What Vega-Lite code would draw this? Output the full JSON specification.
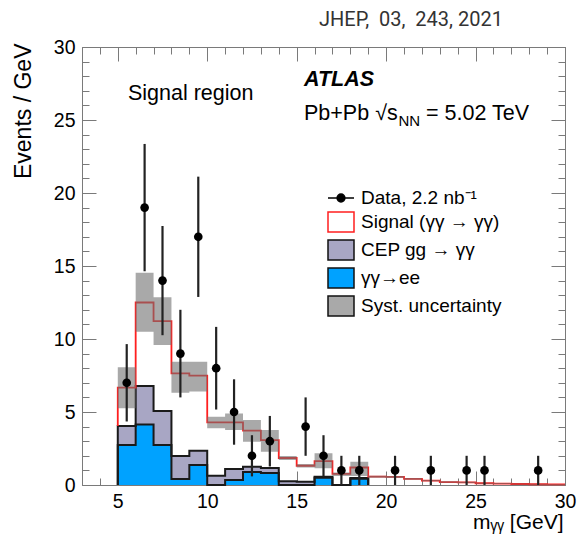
{
  "$schema": "https://vega.github.io/schema/vega-lite/v6.json",
  "width": 483,
  "height": 438,
  "autosize": {"type": "none"},
  "padding": {"left": 82, "top": 47, "right": 12, "bottom": 54},
  "background": "white",
  "config": {"view": {"stroke": null}, "axis": {"grid": false}, "font": "Liberation Sans"},
  "datasets": {
    "steps": [
      {"i": 0, "x": 5, "ee": 0, "cep": 0, "tot": 4.04, "slo": 5.25, "shi": 8.06},
      {"i": 1, "x": 5, "ee": 2.74, "cep": 4.04, "tot": 6.67, "slo": 5.25, "shi": 8.06},
      {"i": 2, "x": 6, "ee": 4.15, "cep": 6.78, "tot": 12.5, "slo": 10.5, "shi": 14.54},
      {"i": 3, "x": 7, "ee": 2.74, "cep": 5.07, "tot": 11.23, "slo": 9.59, "shi": 12.86},
      {"i": 4, "x": 8, "ee": 0.41, "cep": 1.99, "tot": 7.65, "slo": 6.32, "shi": 8.45},
      {"i": 5, "x": 9, "ee": 1.37, "cep": 2.35, "tot": 7.49, "slo": 6.4, "shi": 8.45},
      {"i": 6, "x": 10, "ee": 0, "cep": 0.64, "tot": 4.29, "slo": 3.88, "shi": 4.68},
      {"i": 7, "x": 11, "ee": 0.34, "cep": 1.1, "tot": 4.29, "slo": 3.77, "shi": 4.9},
      {"i": 8, "x": 12, "ee": 0.89, "cep": 1.25, "tot": 3.72, "slo": 2.97, "shi": 4.45},
      {"i": 9, "x": 13, "ee": 0.82, "cep": 1.16, "tot": 3.08, "slo": 2.28, "shi": 3.77},
      {"i": 10, "x": 14, "ee": 0, "cep": 0.25, "tot": 1.85, "slo": 1.71, "shi": 1.99},
      {"i": 11, "x": 15, "ee": 0, "cep": 0.22, "tot": 1.32, "slo": 1.2, "shi": 1.44},
      {"i": 12, "x": 16, "ee": 0.5, "cep": 0.56, "tot": 1.64, "slo": 1.14, "shi": 2.17},
      {"i": 13, "x": 17, "ee": 0, "cep": 0, "tot": 0.76, "slo": 0.62, "shi": 0.86},
      {"i": 14, "x": 18, "ee": 0.43, "cep": 0.48, "tot": 1.2, "slo": 0.62, "shi": 1.6},
      {"i": 15, "x": 19, "ee": 0, "cep": 0, "tot": 0.57, "slo": 0.5, "shi": 0.64},
      {"i": 16, "x": 20, "ee": 0, "cep": 0, "tot": 0.55, "slo": 0.48, "shi": 0.62},
      {"i": 17, "x": 21, "ee": 0, "cep": 0, "tot": 0.42, "slo": 0.36, "shi": 0.48},
      {"i": 18, "x": 22, "ee": 0, "cep": 0, "tot": 0.3, "slo": 0.25, "shi": 0.35},
      {"i": 19, "x": 23, "ee": 0, "cep": 0, "tot": 0.2, "slo": 0.15, "shi": 0.25},
      {"i": 20, "x": 24, "ee": 0, "cep": 0, "tot": 0.18, "slo": 0.13, "shi": 0.22},
      {"i": 21, "x": 25, "ee": 0, "cep": 0, "tot": 0.12, "slo": 0.08, "shi": 0.16},
      {"i": 22, "x": 26, "ee": 0, "cep": 0, "tot": 0.1, "slo": 0.06, "shi": 0.13},
      {"i": 23, "x": 27, "ee": 0, "cep": 0, "tot": 0.07, "slo": 0.03, "shi": 0.1},
      {"i": 24, "x": 28, "ee": 0, "cep": 0, "tot": 0.05, "slo": 0.02, "shi": 0.08},
      {"i": 25, "x": 29, "ee": 0, "cep": 0, "tot": 0.04, "slo": 0.01, "shi": 0.07},
      {"i": 26, "x": 30, "ee": 0, "cep": 0, "tot": 0.04, "slo": 0.01, "shi": 0.07}
    ],
    "pts": [
      {"m": 5.5, "n": 7, "lo": 4.35, "hi": 9.65},
      {"m": 6.5, "n": 19, "lo": 14.64, "hi": 23.36},
      {"m": 7.5, "n": 14, "lo": 10.26, "hi": 17.74},
      {"m": 8.5, "n": 9, "lo": 6, "hi": 12},
      {"m": 9.5, "n": 17, "lo": 12.88, "hi": 21.12},
      {"m": 10.5, "n": 8, "lo": 5.17, "hi": 10.83},
      {"m": 11.5, "n": 5, "lo": 2.76, "hi": 7.24},
      {"m": 12.5, "n": 2, "lo": 0.59, "hi": 3.41},
      {"m": 13.5, "n": 3, "lo": 1.27, "hi": 4.73},
      {"m": 15.5, "n": 4, "lo": 2, "hi": 6},
      {"m": 16.5, "n": 2, "lo": 0.59, "hi": 3.41},
      {"m": 17.5, "n": 1, "lo": 0, "hi": 2},
      {"m": 18.5, "n": 1, "lo": 0, "hi": 2},
      {"m": 20.5, "n": 1, "lo": 0, "hi": 2},
      {"m": 22.5, "n": 1, "lo": 0, "hi": 2},
      {"m": 24.5, "n": 1, "lo": 0, "hi": 2},
      {"m": 25.5, "n": 1, "lo": 0, "hi": 2},
      {"m": 28.5, "n": 1, "lo": 0, "hi": 2}
    ]
  },
  "resolve": {"axis": {"x": "independent", "y": "independent"}},
  "layer": [
    {
      "data": {"name": "steps"},
      "mark": {"type": "area", "interpolate": "step-after", "color": "#00a2ff", "opacity": 1},
      "encoding": {
        "x": {"field": "x", "type": "quantitative", "scale": {"domain": [3, 30], "nice": false, "zero": false},
          "axis": {"orient": "bottom", "values": [5, 10, 15, 20, 25, 30], "ticks": false, "tickSize": 0, "domain": true, "domainColor": "#7a7a7a", "domainWidth": 1, "labelFont": "Liberation Sans", "labelFontSize": 19.5, "labelColor": "#000000", "labelPadding": 7, "labelBaseline": "top", "labelFlush": false, "labelOverlap": false, "title": "mᵧᵧ [GeV]", "titleFont": "Liberation Sans", "titleFontSize": 21, "titleFontWeight": "normal", "titleColor": "#000000", "titleAnchor": "end", "titleAlign": "right", "titleBaseline": "alphabetic", "titleX": 481, "titleY": 43}},
        "y": {"field": "ee", "type": "quantitative", "scale": {"domain": [0, 30], "nice": false, "zero": false},
          "axis": {"orient": "left", "values": [0, 5, 10, 15, 20, 25, 30], "ticks": false, "tickSize": 0, "domain": true, "domainColor": "#7a7a7a", "domainWidth": 1, "labelFont": "Liberation Sans", "labelFontSize": 19.5, "labelColor": "#000000", "labelPadding": 7, "labelBaseline": "middle", "labelFlush": false, "labelOverlap": false, "title": "Events / GeV", "titleFont": "Liberation Sans", "titleFontSize": 23, "titleFontWeight": "normal", "titleColor": "#000000", "titleAngle": 270, "titleAnchor": "end", "titleAlign": "right", "titleBaseline": "alphabetic", "titleX": -52, "titleY": -4}},
        "y2": {"datum": 0}
      }
    },
    {
      "data": {"name": "steps"},
      "mark": {"type": "area", "interpolate": "step-after", "color": "#a8a6c4", "opacity": 1},
      "encoding": {
        "x": {"field": "x", "type": "quantitative", "axis": {"orient": "bottom", "values": [5, 10, 15, 20, 25, 30], "labels": false, "domain": false, "ticks": true, "tickSize": -14, "tickColor": "#7a7a7a", "tickWidth": 1, "title": null}},
        "y": {"field": "cep", "type": "quantitative", "axis": {"orient": "left", "values": [0, 5, 10, 15, 20, 25, 30], "labels": false, "domain": false, "ticks": true, "tickSize": -14, "tickColor": "#7a7a7a", "tickWidth": 1, "title": null}},
        "y2": {"field": "ee"}
      }
    },
    {
      "data": {"name": "steps"},
      "transform": [{"filter": "datum.x <= 19"}],
      "mark": {"type": "line", "interpolate": "step-after", "color": "#1a1a1a", "strokeWidth": 2},
      "encoding": {
        "x": {"field": "x", "type": "quantitative", "axis": {"orient": "bottom", "values": [3,4,5,6,7,8,9,10,11,12,13,14,15,16,17,18,19,20,21,22,23,24,25,26,27,28,29,30], "labels": false, "domain": false, "ticks": true, "tickSize": -7, "tickColor": "#7a7a7a", "tickWidth": 1, "title": null}},
        "y": {"field": "cep", "type": "quantitative", "axis": {"orient": "left", "values": [0,1,2,3,4,5,6,7,8,9,10,11,12,13,14,15,16,17,18,19,20,21,22,23,24,25,26,27,28,29,30], "labels": false, "domain": false, "ticks": true, "tickSize": -7, "tickColor": "#7a7a7a", "tickWidth": 1, "title": null}},
        "order": {"field": "i"}
      }
    },
    {
      "data": {"name": "steps"},
      "transform": [{"filter": "datum.x <= 19"}],
      "mark": {"type": "line", "interpolate": "step-after", "color": "#1a1a1a", "strokeWidth": 2},
      "encoding": {
        "x": {"field": "x", "type": "quantitative", "axis": {"orient": "top", "values": [5, 10, 15, 20, 25, 30], "labels": false, "domain": true, "domainColor": "#7a7a7a", "domainWidth": 1, "ticks": true, "tickSize": -14, "tickColor": "#7a7a7a", "tickWidth": 1, "title": null}},
        "y": {"field": "ee", "type": "quantitative", "axis": {"orient": "right", "values": [0, 5, 10, 15, 20, 25, 30], "labels": false, "domain": true, "domainColor": "#7a7a7a", "domainWidth": 1, "ticks": true, "tickSize": -14, "tickColor": "#7a7a7a", "tickWidth": 1, "title": null}},
        "order": {"field": "i"}
      }
    },
    {
      "data": {"name": "steps"},
      "mark": {"type": "line", "interpolate": "step-after", "color": "#ff1f1f", "strokeWidth": 1.8},
      "encoding": {
        "x": {"field": "x", "type": "quantitative", "axis": {"orient": "top", "values": [3,4,5,6,7,8,9,10,11,12,13,14,15,16,17,18,19,20,21,22,23,24,25,26,27,28,29,30], "labels": false, "domain": false, "ticks": true, "tickSize": -7, "tickColor": "#7a7a7a", "tickWidth": 1, "title": null}},
        "y": {"field": "tot", "type": "quantitative", "axis": {"orient": "right", "values": [0,1,2,3,4,5,6,7,8,9,10,11,12,13,14,15,16,17,18,19,20,21,22,23,24,25,26,27,28,29,30], "labels": false, "domain": false, "ticks": true, "tickSize": -7, "tickColor": "#7a7a7a", "tickWidth": 1, "title": null}},
        "order": {"field": "i"}
      }
    },
    {
      "data": {"name": "steps"},
      "mark": {"type": "area", "interpolate": "step-after", "color": "#707070", "opacity": 0.6},
      "encoding": {
        "x": {"field": "x", "type": "quantitative", "axis": null},
        "y": {"field": "shi", "type": "quantitative", "axis": null},
        "y2": {"field": "slo"}
      }
    },
    {
      "data": {"name": "pts"},
      "mark": {"type": "rule", "color": "#222222", "strokeWidth": 2.2},
      "encoding": {
        "x": {"field": "m", "type": "quantitative", "axis": null},
        "y": {"field": "lo", "type": "quantitative", "axis": null},
        "y2": {"field": "hi"}
      }
    },
    {
      "data": {"name": "pts"},
      "mark": {"type": "point", "filled": true, "shape": "circle", "size": 75, "opacity": 1, "color": "#000000"},
      "encoding": {
        "x": {"field": "m", "type": "quantitative", "axis": null},
        "y": {"field": "n", "type": "quantitative", "axis": null}
      }
    },
    {
      "data": {"name": "pts"},
      "mark": {"type": "point", "filled": true, "opacity": 0, "strokeWidth": 1.5},
      "encoding": {
        "x": {"field": "m", "type": "quantitative", "axis": null},
        "y": {"field": "n", "type": "quantitative", "axis": null},
        "color": {
          "datum": "Data, 2.2 nb⁻¹", "type": "nominal",
          "scale": {"domain": ["Data, 2.2 nb⁻¹", "Signal (γγ → γγ)", "CEP gg → γγ", "γγ→ee", "Syst. uncertainty"], "range": ["#000000", "#ffffff", "#a8a6c4", "#00a2ff", "#a9a9a9"]},
          "legend": {"orient": "none", "legendX": 245, "legendY": 137, "title": null, "padding": 0, "symbolSize": 676, "symbolStrokeWidth": 1.5, "symbolOpacity": 1, "labelFont": "Liberation Sans", "labelFontSize": 19, "labelColor": "#000000", "labelOffset": 6, "labelLimit": 300, "rowPadding": 0}
        },
        "shape": {
          "datum": "Data, 2.2 nb⁻¹", "type": "nominal",
          "scale": {"domain": ["Data, 2.2 nb⁻¹", "Signal (γγ → γγ)", "CEP gg → γγ", "γγ→ee", "Syst. uncertainty"], "range": ["M-1,0H1M0.3,0A0.3,0.3,0,1,1,-0.3,0A0.3,0.3,0,1,1,0.3,0Z", "M-1,-0.77H1V0.77H-1Z", "M-1,-0.77H1V0.77H-1Z", "M-1,-0.77H1V0.77H-1Z", "M-1,-0.77H1V0.77H-1Z"]},
          "legend": {"orient": "none", "legendX": 245, "legendY": 137, "title": null, "padding": 0, "symbolSize": 676, "symbolStrokeWidth": 1.5, "symbolOpacity": 1, "labelFont": "Liberation Sans", "labelFontSize": 19, "labelColor": "#000000", "labelOffset": 6, "labelLimit": 300, "rowPadding": 0}
        },
        "stroke": {
          "datum": "Data, 2.2 nb⁻¹", "type": "nominal",
          "scale": {"domain": ["Data, 2.2 nb⁻¹", "Signal (γγ → γγ)", "CEP gg → γγ", "γγ→ee", "Syst. uncertainty"], "range": ["#000000", "#ff1f1f", "#111111", "#111111", "#111111"]},
          "legend": {"orient": "none", "legendX": 245, "legendY": 137, "title": null, "padding": 0, "symbolSize": 676, "symbolStrokeWidth": 1.5, "symbolOpacity": 1, "labelFont": "Liberation Sans", "labelFontSize": 19, "labelColor": "#000000", "labelOffset": 6, "labelLimit": 300, "rowPadding": 0}
        }
      }
    },
    {
      "data": {"values": [{}]},
      "mark": {"type": "text", "text": "JHEP,\u00a0 03,\u00a0 243, 2021", "font": "Roboto", "fontSize": 20, "align": "left", "baseline": "alphabetic", "color": "#333333"},
      "encoding": {"x": {"datum": 16.25, "type": "quantitative", "axis": null}, "y": {"datum": 31.44, "type": "quantitative", "axis": null}}
    },
    {
      "data": {"values": [{}]},
      "mark": {"type": "text", "text": "Signal region", "font": "Liberation Sans", "fontSize": 21.5, "align": "left", "baseline": "alphabetic", "color": "#000000"},
      "encoding": {"x": {"datum": 5.57, "type": "quantitative", "axis": null}, "y": {"datum": 26.35, "type": "quantitative", "axis": null}}
    },
    {
      "data": {"values": [{}]},
      "mark": {"type": "text", "text": "ATLAS", "font": "Liberation Sans", "fontSize": 21.5, "fontWeight": "bold", "fontStyle": "italic", "align": "left", "baseline": "alphabetic", "color": "#000000"},
      "encoding": {"x": {"datum": 15.41, "type": "quantitative", "axis": null}, "y": {"datum": 27.3, "type": "quantitative", "axis": null}}
    },
    {
      "data": {"values": [{}]},
      "mark": {"type": "text", "text": "Pb+Pb √s", "font": "Liberation Sans", "fontSize": 21.5, "align": "left", "baseline": "alphabetic", "color": "#000000"},
      "encoding": {"x": {"datum": 15.41, "type": "quantitative", "axis": null}, "y": {"datum": 25.0, "type": "quantitative", "axis": null}}
    },
    {
      "data": {"values": [{}]},
      "mark": {"type": "text", "text": "NN", "font": "Liberation Sans", "fontSize": 15, "align": "left", "baseline": "alphabetic", "color": "#000000"},
      "encoding": {"x": {"datum": 20.69, "type": "quantitative", "axis": null}, "y": {"datum": 24.6, "type": "quantitative", "axis": null}}
    },
    {
      "data": {"values": [{}]},
      "mark": {"type": "text", "text": "= 5.02 TeV", "font": "Liberation Sans", "fontSize": 21.5, "align": "left", "baseline": "alphabetic", "color": "#000000"},
      "encoding": {"x": {"datum": 22.23, "type": "quantitative", "axis": null}, "y": {"datum": 25.0, "type": "quantitative", "axis": null}}
    }
  ]
}
